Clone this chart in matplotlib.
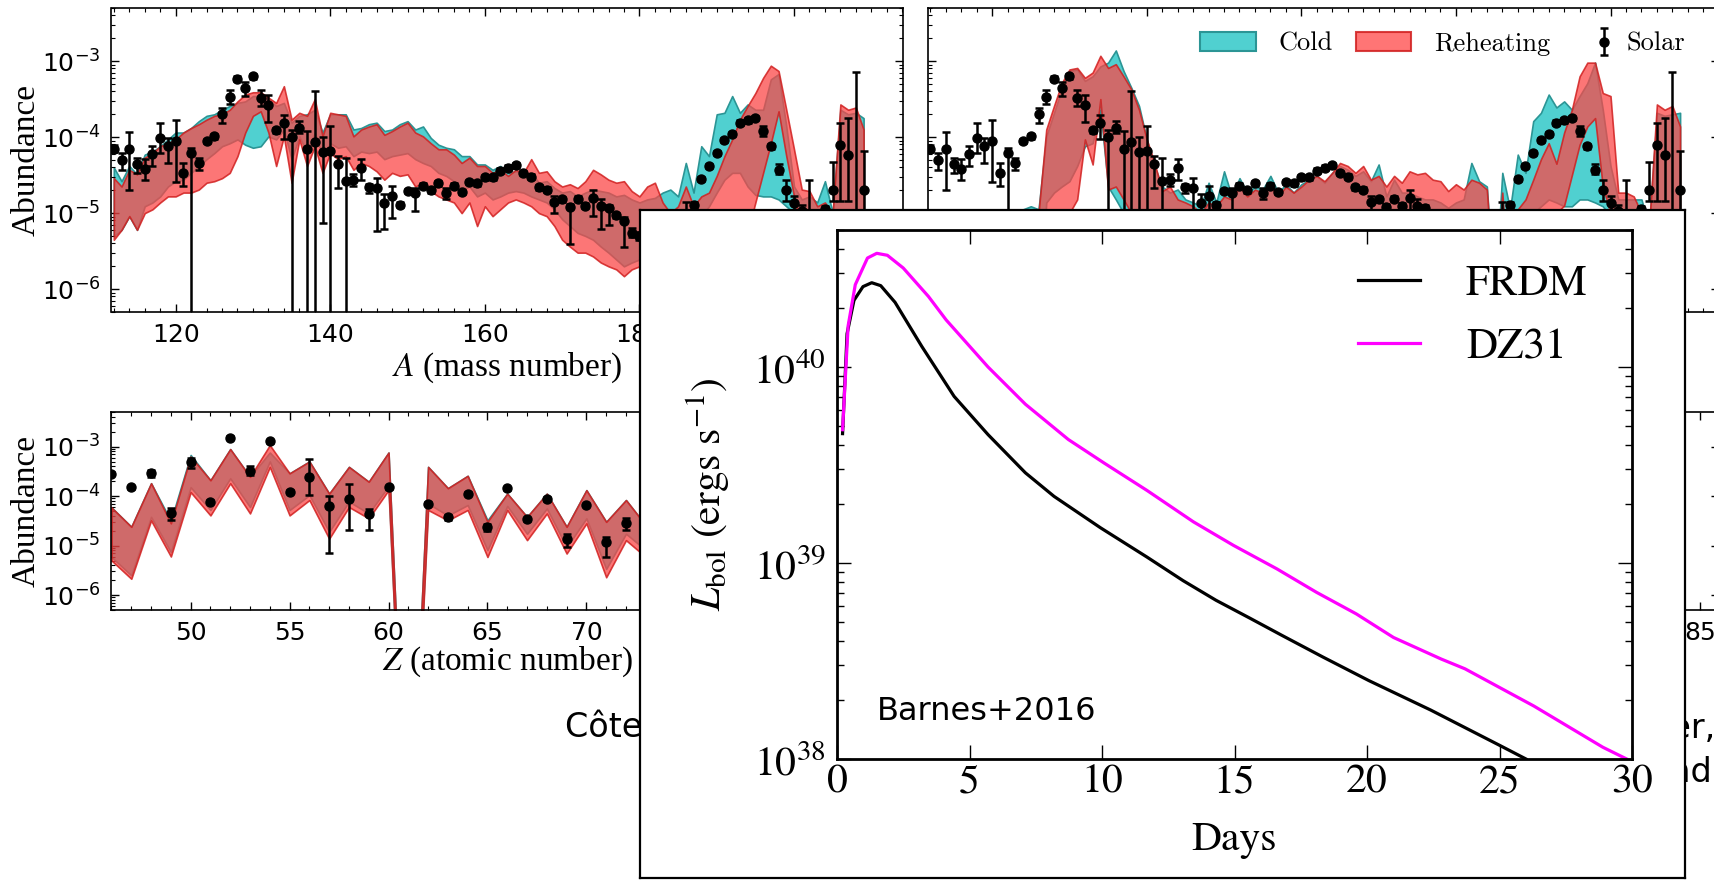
import numpy as np
import matplotlib
matplotlib.use("Agg")
import matplotlib.pyplot as plt
from matplotlib.ticker import MultipleLocator, LogLocator, NullFormatter
from matplotlib.patches import Patch

W, H = 1714, 880

# ---------------- abundance pattern vs mass number ----------------
A = np.arange(112, 210)

# left model, log10 abundance, band limits
cold1_hi = [-4.40, -4.58, -4.38, -4.49, -4.23, -4.19, -4.12, -4.03, -3.94, -3.94,
            -3.88, -3.79, -3.72, -3.70, -3.64, -3.59, -3.55, -3.53, -3.46, -3.46,
            -3.50, -3.59, -3.55, -3.81, -3.72, -3.70, -3.64, -3.94, -3.70, -3.70,
            -3.70, -3.90, -3.88, -3.83, -3.81, -3.92, -3.90, -3.83, -3.79, -3.90,
            -3.86, -4.01, -4.10, -4.14, -4.16, -4.25, -4.25, -4.36, -4.36, -4.43,
            -4.38, -4.47, -4.45, -4.47, -4.47, -4.60, -4.58, -4.67, -4.73, -4.71,
            -4.78, -4.73, -4.69, -4.71, -4.73, -4.78, -4.76, -4.82, -4.86, -4.82,
            -4.80, -4.73, -4.69, -4.78, -4.34, -4.73, -4.12, -4.25, -3.70, -3.68,
            -3.46, -3.68, -3.57, -3.64, -3.64, -3.24, -3.17, -3.86, -4.65, -4.82,
            -4.78, -4.86, -4.58, -5.00, -3.64, -3.70, -3.68, -3.75]
cold1_lo = [-5.30, -5.22, -5.04, -5.22, -4.91, -4.86, -4.78, -4.65, -4.58, -4.56,
            -4.47, -4.38, -4.29, -4.21, -4.12, -4.08, -4.03, -4.10, -4.14, -4.12,
            -3.99, -4.03, -3.90, -4.29, -3.99, -4.21, -3.94, -4.25, -4.08, -4.14,
            -4.12, -4.25, -4.19, -4.21, -4.19, -4.29, -4.25, -4.23, -4.21, -4.29,
            -4.34, -4.38, -4.47, -4.51, -4.58, -4.69, -4.65, -4.78, -4.73, -4.82,
            -4.78, -4.73, -4.71, -4.73, -4.78, -4.82, -4.86, -4.95, -5.08, -5.17,
            -5.26, -5.30, -5.35, -5.44, -5.52, -5.61, -5.70, -5.65, -5.61, -5.57,
            -5.61, -5.48, -5.44, -5.52, -5.39, -5.26, -5.04, -4.91, -4.73, -4.56,
            -4.47, -4.47, -4.65, -4.76, -4.78, -4.78, -4.82, -4.91, -5.00, -5.22,
            -5.35, -5.52, -5.44, -5.70, -5.04, -5.04, -5.08, -5.13]
reheat1_hi = [-4.54, -4.65, -4.43, -4.49, -4.27, -4.21, -4.12, -4.08, -4.03, -3.94,
              -3.88, -3.83, -3.77, -3.72, -3.70, -3.64, -3.53, -3.44, -3.41, -3.41,
              -3.48, -3.55, -3.33, -3.77, -3.68, -3.72, -3.50, -3.99, -3.68, -3.70,
              -3.72, -3.99, -3.90, -3.86, -3.83, -3.97, -3.92, -3.86, -3.81, -3.94,
              -3.99, -4.08, -4.16, -4.16, -4.23, -4.34, -4.27, -4.38, -4.38, -4.47,
              -4.43, -4.51, -4.43, -4.47, -4.29, -4.47, -4.45, -4.58, -4.65, -4.62,
              -4.67, -4.58, -4.43, -4.49, -4.56, -4.60, -4.58, -4.71, -4.78, -4.65,
              -4.60, -4.86, -5.00, -4.91, -4.65, -4.91, -4.78, -4.73, -4.51, -4.25,
              -4.03, -3.77, -3.59, -3.42, -3.22, -3.06, -3.13, -3.64, -4.16, -4.69,
              -4.71, -4.91, -4.86, -5.00, -3.57, -3.64, -3.61, -3.90]
reheat1_lo = [-5.35, -5.22, -5.04, -5.22, -5.00, -4.95, -4.86, -4.78, -4.78, -4.73,
              -4.73, -4.69, -4.60, -4.58, -4.54, -4.47, -4.25, -3.94, -3.72, -3.66,
              -3.94, -4.38, -3.99, -4.60, -4.03, -4.38, -4.12, -4.47, -4.21, -4.29,
              -4.25, -4.43, -4.34, -4.38, -4.45, -4.56, -4.47, -4.51, -4.49, -4.65,
              -4.60, -4.71, -4.78, -4.82, -4.86, -5.00, -4.86, -5.17, -4.91, -5.04,
              -4.95, -4.86, -4.82, -4.86, -4.91, -5.00, -5.04, -5.17, -5.35, -5.44,
              -5.52, -5.52, -5.57, -5.65, -5.70, -5.74, -5.83, -5.74, -5.70, -5.65,
              -5.70, -5.79, -5.92, -5.92, -5.87, -5.92, -5.79, -5.70, -5.52, -5.35,
              -5.22, -5.35, -5.26, -4.86, -4.47, -4.08, -3.66, -4.25, -4.78, -5.26,
              -5.52, -5.61, -5.52, -5.70, -5.00, -5.00, -5.04, -5.08]

# right model
cold2_hi = [-7.0, -7.0, -7.0, -7.0, -7.0, -7.0, -7.0, -7.0, -7.0, -7.0,
            -7.0, -7.0, -4.95, -4.91, -4.95, -3.99, -3.68, -3.37, -3.13, -3.11,
            -3.26, -3.20, -3.07, -3.02, -2.86, -3.13, -3.35, -3.59, -4.03, -4.38,
            -4.65, -4.73, -4.69, -4.82, -4.86, -4.91, -4.60, -4.86, -4.45, -4.78,
            -4.54, -4.73, -4.65, -4.69, -4.51, -4.73, -4.62, -4.73, -4.62, -4.56,
            -4.51, -4.60, -4.47, -4.38, -4.43, -4.51, -4.45, -4.58, -4.36, -4.78,
            -4.56, -4.73, -4.73, -4.78, -4.82, -4.82, -4.86, -4.93, -4.86, -4.82,
            -4.34, -4.58, -4.65, -6.14, -4.47, -4.95, -4.23, -4.47, -3.79, -3.68,
            -3.44, -3.61, -3.53, -3.64, -3.46, -3.29, -3.02, -3.64, -4.38, -4.82,
            -4.82, -4.82, -4.82, -5.17, -3.68, -3.72, -3.70, -3.68]
cold2_lo = [-7.5, -7.5, -7.5, -7.5, -7.5, -7.5, -7.5, -7.5, -7.5, -7.5,
            -7.5, -7.5, -7.5, -6.5, -6.5, -4.86, -4.73, -4.65, -4.58, -4.38,
            -4.12, -4.08, -3.64, -4.65, -4.82, -5.00, -5.26, -5.52, -5.61, -5.70,
            -5.79, -5.80, -5.85, -5.90, -5.85, -5.90, -5.80, -5.85, -5.75, -5.80,
            -5.75, -5.80, -5.75, -5.80, -5.75, -5.80, -5.75, -5.70, -5.65, -5.70,
            -5.65, -5.60, -5.65, -5.70, -5.65, -5.70, -5.65, -5.70, -5.70, -5.75,
            -5.70, -5.75, -5.75, -5.80, -5.80, -5.85, -5.80, -5.85, -5.80, -5.75,
            -5.80, -5.85, -5.90, -7.00, -6.00, -7.00, -5.70, -5.26, -5.00, -4.91,
            -4.82, -4.86, -4.91, -4.91, -4.82, -4.82, -4.86, -4.91, -5.04, -5.85,
            -5.90, -5.85, -5.95, -6.50, -5.12, -5.12, -5.12, -5.17]
reheat2_hi = [-7.0, -7.0, -7.0, -7.0, -7.0, -7.0, -7.0, -7.0, -7.0, -7.0,
              -7.0, -7.0, -7.0, -5.70, -5.00, -3.90, -3.59, -3.29, -3.11, -3.09,
              -3.22, -3.15, -2.93, -3.09, -3.04, -3.20, -3.37, -3.64, -4.03, -4.34,
              -4.71, -4.65, -4.82, -4.86, -4.91, -5.00, -4.86, -4.91, -4.78, -4.82,
              -4.65, -4.78, -4.69, -4.73, -4.65, -4.78, -4.65, -4.73, -4.65, -4.56,
              -4.51, -4.58, -4.47, -4.34, -4.38, -4.47, -4.38, -4.56, -4.51, -4.65,
              -4.51, -4.60, -4.45, -4.49, -4.47, -4.56, -4.58, -4.71, -4.62, -4.69,
              -4.56, -4.60, -4.69, -6.14, -4.73, -6.14, -4.95, -4.82, -4.56, -4.29,
              -4.08, -4.35, -3.94, -3.64, -3.20, -3.02, -3.02, -3.42, -3.46, -4.73,
              -4.73, -4.78, -5.00, -5.17, -3.57, -3.64, -3.59, -3.86]
reheat2_lo = [-7.5, -7.5, -7.5, -7.5, -7.5, -7.5, -7.5, -7.5, -7.5, -7.5,
              -7.5, -7.5, -7.5, -6.5, -6.5, -5.17, -5.08, -5.04, -5.00, -4.82,
              -4.03, -4.36, -3.50, -4.69, -4.65, -4.82, -5.00, -5.26, -5.52, -5.70,
              -5.79, -5.85, -5.90, -5.95, -5.90, -5.95, -5.85, -5.90, -5.80, -5.85,
              -5.80, -5.85, -5.80, -5.85, -5.80, -5.85, -5.80, -5.75, -5.70, -5.75,
              -5.70, -5.65, -5.70, -5.75, -5.70, -5.75, -5.70, -5.75, -5.75, -5.80,
              -5.75, -5.80, -5.80, -5.85, -5.85, -5.90, -5.85, -5.90, -5.85, -5.80,
              -5.85, -5.90, -5.95, -7.00, -6.00, -7.00, -6.14, -5.70, -5.26, -5.00,
              -5.00, -5.00, -4.90, -4.50, -4.10, -3.86, -3.75, -4.65, -5.00, -5.90,
              -5.95, -5.90, -6.00, -6.50, -5.17, -5.17, -5.17, -5.22]

# solar r-process residuals (log10), with error bar ends
solar_A = np.r_[np.arange(112, 203), np.arange(204, 210)]
solar_log = [-4.15, -4.30, -4.16, -4.35, -4.42, -4.22, -4.01, -4.12, -4.05, -4.47,
             -4.21, -4.34, -4.05, -3.99, -3.70, -3.47, -3.23, -3.36, -3.20, -3.49,
             -3.58, -3.91, -3.81, -4.00, -3.88, -4.16, -4.07, -4.20, -4.18, -4.35,
             -4.58, -4.56, -4.40, -4.66, -4.67, -4.87, -4.78, -4.89, -4.71, -4.74,
             -4.64, -4.70, -4.61, -4.73, -4.64, -4.72, -4.59, -4.61, -4.53, -4.53,
             -4.44, -4.40, -4.37, -4.47, -4.52, -4.66, -4.69, -4.86, -4.82, -4.92,
             -4.81, -4.90, -4.80, -4.91, -4.93, -5.03, -5.11, -5.26, -5.30, -5.25,
             -5.20, -5.30, -5.22, -5.15, -5.10, -4.89, -4.55, -4.38, -4.21, -4.04,
             -3.96, -3.81, -3.78, -3.75, -3.92, -4.12, -4.43, -4.69, -4.87, -4.97,
             -5.04, -4.95, -4.70, -4.11, -4.24, -5.50, -4.70]
solar_hi = [-4.10, -4.21, -3.93, -4.27, -4.29, -4.12, -3.82, -4.01, -3.78, -4.34,
            -4.14, -4.27, -4.02, -3.96, -3.62, -3.38, -3.20, -3.28, -3.17, -3.38,
            -3.44, -3.88, -3.71, -3.90, -3.79, -3.92, -3.39, -4.00, -3.85, -4.25,
            -4.27, -4.49, -4.29, -4.62, -4.54, -4.75, -4.64, -4.86, -4.68, -4.67,
            -4.61, -4.67, -4.58, -4.67, -4.61, -4.69, -4.56, -4.58, -4.50, -4.50,
            -4.41, -4.37, -4.34, -4.44, -4.49, -4.63, -4.66, -4.78, -4.79, -4.88,
            -4.78, -4.87, -4.69, -4.82, -4.89, -5.00, -5.05, -5.20, -5.25, -5.20,
            -5.15, -5.25, -5.17, -5.10, -4.86, -4.86, -4.52, -4.35, -4.18, -4.01,
            -3.93, -3.78, -3.75, -3.72, -3.86, -4.09, -4.36, -4.56, -4.78, -4.89,
            -4.56, -4.91, -4.33, -3.81, -3.75, -3.14, -4.18]
solar_lo = [-4.20, -4.43, -4.69, -4.47, -4.56, -4.38, -4.21, -4.34, -4.59, -4.64,
            -9.00, -4.43, -4.08, -4.02, -3.81, -3.57, -3.26, -3.46, -3.23, -3.59,
            -3.80, -3.94, -4.03, -9.00, -3.94, -9.00, -9.00, -5.13, -9.00, -4.67,
            -9.00, -4.64, -4.56, -4.73, -5.24, -5.21, -5.06, -4.92, -4.74, -4.97,
            -4.67, -4.73, -4.64, -4.82, -4.67, -4.75, -4.62, -4.64, -4.56, -4.56,
            -4.47, -4.43, -4.40, -4.50, -4.55, -4.69, -4.72, -5.00, -4.85, -5.40,
            -4.84, -4.93, -5.04, -5.21, -5.15, -5.06, -5.45, -5.32, -5.35, -5.30,
            -5.25, -5.35, -5.27, -5.20, -5.40, -4.92, -4.58, -4.41, -4.24, -4.07,
            -3.99, -3.84, -3.81, -3.78, -3.99, -4.15, -4.49, -4.84, -5.04, -5.20,
            -5.40, -4.99, -4.84, -4.84, -4.84, -9.00, -5.60]

# ---------------- abundance pattern vs atomic number ----------------
Z = np.arange(46, 75)
zcold_hi = [-4.23, -4.62, -3.74, -4.50, -3.17, -3.68, -3.05, -3.61, -3.12, -3.54,
            -3.30, -3.95, -3.41, -3.71, -3.12, -12.0, -3.41, -3.84, -3.59, -4.49,
            -3.95, -4.42, -3.95, -4.62, -3.88, -4.52, -4.08, -4.59, -4.15]
zcold_lo = [-5.23, -5.60, -4.42, -5.13, -3.82, -4.28, -3.64, -4.22, -3.30, -4.28,
            -3.98, -4.72, -4.11, -4.35, -3.80, -12.5, -4.15, -4.39, -4.18, -5.09,
            -4.20, -4.76, -4.25, -5.03, -4.45, -5.47, -4.76, -5.09, -4.82]
zreheat_hi = [-4.23, -4.62, -3.74, -4.55, -3.20, -3.68, -3.05, -3.61, -2.97, -3.54,
              -3.30, -3.95, -3.41, -3.71, -3.12, -12.0, -3.41, -3.84, -3.59, -4.52,
              -3.95, -4.42, -3.95, -4.62, -3.88, -4.52, -4.08, -4.59, -4.15]
zreheat_lo = [-5.30, -5.67, -4.49, -5.22, -3.92, -4.39, -3.74, -4.35, -3.41, -4.39,
              -4.08, -4.86, -4.22, -4.45, -3.88, -12.5, -4.28, -4.49, -4.28, -5.23,
              -4.28, -4.89, -4.35, -5.16, -4.55, -5.64, -4.89, -5.23, -4.96]

solar_Z = np.r_[np.arange(46, 61), np.arange(62, 73)]
solarZ_log = [-3.55, -3.82, -3.54, -4.35, -3.32, -4.11, -2.82, -3.49, -2.89, -3.91,
              -3.61, -4.20, -4.05, -4.36, -3.82, -4.15, -4.43, -3.95, -4.63, -3.84,
              -4.47, -4.06, -4.86, -4.18, -4.93, -4.55]
solarZ_hi = [-3.52, -3.79, -3.47, -4.25, -3.24, -4.08, -2.79, -3.39, -2.86, -3.88,
             -3.26, -4.00, -3.76, -4.26, -3.79, -4.12, -4.38, -3.92, -4.56, -3.81,
             -4.44, -4.02, -4.76, -4.15, -4.82, -4.45]
solarZ_lo = [-3.58, -3.85, -3.61, -4.49, -3.44, -4.14, -2.85, -3.57, -2.92, -3.94,
             -3.98, -5.14, -4.68, -4.68, -3.85, -4.18, -4.49, -3.98, -4.70, -3.87,
             -4.50, -4.10, -5.03, -4.21, -5.23, -4.69]

# ---------------- bolometric light curves (Barnes+2016) ----------------
frdm_days = [0.21, 0.38, 0.64, 0.98, 1.31, 1.65, 2.19, 3.2, 4.42, 5.7, 7.11, 8.19,
             9.94, 11.7, 13.06, 14.3, 15.56, 16.8, 18.34, 20.07, 22.4, 25.0, 26.0]
frdm_logL = [39.66, 40.17, 40.34, 40.41, 40.43, 40.415, 40.33, 40.105, 39.85, 39.655,
             39.46, 39.34, 39.18, 39.03, 38.91, 38.81, 38.72, 38.63, 38.52, 38.40,
             38.25, 38.07, 38.0]
dz31_days = [0.21, 0.42, 0.69, 1.15, 1.5, 1.9, 2.5, 3.45, 4.12, 5.7, 7.11, 8.73,
             10.08, 11.7, 13.45, 14.96, 16.6, 18.1, 19.6, 21.0, 22.8, 23.7, 26.3,
             28.9, 29.8]
dz31_logL = [39.68, 40.21, 40.42, 40.556, 40.58, 40.57, 40.505, 40.36, 40.24, 40.0,
             39.81, 39.63, 39.51, 39.37, 39.21, 39.09, 38.97, 38.85, 38.74, 38.62,
             38.51, 38.46, 38.27, 38.06, 38.0]

CYAN = '#50d0d0'
CYAN_EDGE = '#2b9595'
RED_FACE = (251 / 255, 71 / 255, 71 / 255, 0.745)
RED_EDGE = (0.82, 0.12, 0.12, 0.85)
SERIF = 'Liberation Serif'


def box(x0, y0, x1, y1):
    # pixel box -> figure fraction rect
    return [x0 / W, 1 - y1 / H, (x1 - x0) / W, (y1 - y0) / H]


def style_abund(ax, show_left=True):
    ax.set_yscale('log')
    ax.set_ylim(5e-7, 5e-3)
    ax.yaxis.set_major_locator(LogLocator(base=10, numticks=12))
    ax.yaxis.set_minor_locator(LogLocator(base=10, subs=np.arange(2, 10), numticks=12))
    ax.yaxis.set_minor_formatter(NullFormatter())
    ax.tick_params(which='both', direction='in', top=True, right=True)
    ax.tick_params(which='major', length=6, width=1, labelsize=18, pad=8)
    ax.tick_params(which='minor', length=3, width=0.8)
    for s in ax.spines.values():
        s.set_linewidth(1.2)
    if not show_left:
        ax.tick_params(labelleft=False)


def bands(ax, x, c_lo, c_hi, r_lo, r_hi):
    ax.fill_between(x, 10 ** np.array(c_lo), 10 ** np.array(c_hi),
                    facecolor=CYAN, edgecolor=CYAN_EDGE, lw=1.2, zorder=1)
    ax.fill_between(x, 10 ** np.array(r_lo), 10 ** np.array(r_hi),
                    facecolor=RED_FACE, edgecolor=RED_EDGE, lw=1.2, zorder=2)


def solar(ax, x, v, hi, lo):
    v = 10 ** np.array(v)
    err = [v - 10 ** np.array(lo), 10 ** np.array(hi) - v]
    return ax.errorbar(x, v, yerr=err, fmt='o', color='k', ms=6.5, elinewidth=1.8,
                       capsize=3, capthick=1.8, zorder=3)


fig = plt.figure(figsize=(W / 100, H / 100), dpi=100)

ax_tl = fig.add_axes(box(111.5, 8, 903, 312))
ax_tr = fig.add_axes(box(928, 8, 1719.5, 312))
ax_bl = fig.add_axes(box(111.5, 412, 903, 610))
ax_br = fig.add_axes(box(928, 412, 1719.5, 610))

bands(ax_tl, A, cold1_lo, cold1_hi, reheat1_lo, reheat1_hi)
solar(ax_tl, solar_A, solar_log, solar_hi, solar_lo)
bands(ax_tr, A, cold2_lo, cold2_hi, reheat2_lo, reheat2_hi)
sol = solar(ax_tr, solar_A, solar_log, solar_hi, solar_lo)

for ax, show in ((ax_tl, True), (ax_tr, False)):
    style_abund(ax, show)
    ax.set_xlim(111.7, 214.1)
    ax.xaxis.set_major_locator(MultipleLocator(20))
    ax.xaxis.set_minor_locator(MultipleLocator(2))

# the right-hand panels sit under the light-curve sheet, only the left ones keep axis titles
ax_tr.tick_params(labelbottom=False)
ax_tl.set_xlabel(r'$A$ (mass number)', fontsize=24, family=SERIF, math_fontfamily='stix')
ax_tl.xaxis.set_label_coords(0.5, -0.184)
ax_tl.xaxis.label.set_va('center')

bands(ax_bl, Z, zcold_lo, zcold_hi, zreheat_lo, zreheat_hi)
solar(ax_bl, solar_Z, solarZ_log, solarZ_hi, solarZ_lo)
solar(ax_br, solar_Z, solarZ_log, solarZ_hi, solarZ_lo)

for ax, show in ((ax_bl, True), (ax_br, False)):
    style_abund(ax, show)
    ax.set_xlim(46, 86)
    ax.xaxis.set_major_locator(MultipleLocator(5))
    ax.xaxis.set_minor_locator(MultipleLocator(1))

ax_bl.set_xlabel(r'$Z$ (atomic number)', fontsize=24, family=SERIF, math_fontfamily='stix')
ax_bl.xaxis.set_label_coords(0.5, -0.263)
ax_bl.xaxis.label.set_va('center')

for ax in (ax_tl, ax_bl):
    ax.set_ylabel('Abundance', fontsize=24, family=SERIF)
    ax.yaxis.set_label_coords(-0.108, 0.5)
    ax.yaxis.label.set_va('center')

leg1 = ax_tr.legend([Patch(facecolor=CYAN, edgecolor=CYAN_EDGE, lw=1.5),
                     Patch(facecolor=(1, 0.46, 0.46), edgecolor=RED_EDGE, lw=1.5)],
                    ['Cold', 'Reheating'], ncol=2, loc='center left',
                    bbox_to_anchor=(0.344, 0.882), frameon=False,
                    prop={'family': 'cmr10', 'size': 19}, handlelength=2.1,
                    handleheight=0.7, handletextpad=0.87, columnspacing=0.87,
                    borderpad=0, borderaxespad=0)
ax_tr.add_artist(leg1)
ax_tr.legend([sol], ['Solar'], loc='center left', bbox_to_anchor=(0.837, 0.882),
             frameon=False, prop={'family': 'cmr10', 'size': 19}, handlelength=1.0,
             handletextpad=0.35, borderpad=0, borderaxespad=0)

# caption lines of the slide
cap = dict(fontsize=24, family='DejaVu Sans', va='center', zorder=3)
fig.text(565 / W, 1 - 727 / H, 'Côte et al. (2018)', ha='left', **cap)
fig.text(1716 / W, 1 - 728 / H, 'Fryer,', ha='right', **cap)
fig.text(1712 / W, 1 - 772 / H, 'and', ha='right', **cap)

# white panel carrying the light-curve figure
ax_box = fig.add_axes(box(640, 210, 1685, 878), zorder=10)
ax_box.set_xticks([])
ax_box.set_yticks([])
for s in ax_box.spines.values():
    s.set_linewidth(1.6)

ax_in = fig.add_axes(box(837, 230, 1632, 759), zorder=11)
ax_in.plot(frdm_days, 10 ** np.array(frdm_logL), color='k', lw=2.3, label='FRDM')
ax_in.plot(dz31_days, 10 ** np.array(dz31_logL), color='magenta', lw=2.3, label='DZ31')
ax_in.set_yscale('log')
ax_in.set_xlim(0, 30)
ax_in.set_ylim(1e38, 5e40)
ax_in.set_xticks(range(0, 31, 5), labels=[str(t) for t in range(0, 31, 5)],
                 fontsize=30, family='STIXGeneral')
ax_in.set_yticks([1e38, 1e39, 1e40], labels=[r'$10^{38}$', r'$10^{39}$', r'$10^{40}$'],
                 fontsize=30, math_fontfamily='stix')
ax_in.yaxis.set_minor_locator(LogLocator(base=10, subs=np.arange(2, 10), numticks=12))
ax_in.yaxis.set_minor_formatter(NullFormatter())
ax_in.tick_params(which='both', direction='in', top=True, right=True)
ax_in.tick_params(axis='x', which='major', length=10, width=1, pad=4)
ax_in.tick_params(axis='y', which='major', length=10, width=1, pad=8)
ax_in.tick_params(which='minor', length=5, width=1)
for s in ax_in.spines.values():
    s.set_linewidth(2)
ax_in.set_xlabel('Days', fontsize=30, family='STIXGeneral')
ax_in.xaxis.set_label_coords(0.5, -0.153)
ax_in.xaxis.label.set_va('center')
ax_in.set_ylabel(r'$L_{\rm bol}$ (ergs s$^{-1}$)', fontsize=30, family='STIXGeneral',
                 math_fontfamily='stix')
ax_in.yaxis.set_label_coords(-0.162, 0.5)
ax_in.yaxis.label.set_va('center')
ax_in.legend(loc='center left', bbox_to_anchor=(0.655, 0.837), frameon=False,
             prop={'family': 'STIXGeneral', 'size': 31}, handlelength=1.45,
             handletextpad=1.06, labelspacing=0.55, borderpad=0, borderaxespad=0)
ax_in.text(0.05, 0.09, 'Barnes+2016', transform=ax_in.transAxes, fontsize=23,
           family='DejaVu Sans', va='center')

fig.savefig('out.png', dpi=100)
